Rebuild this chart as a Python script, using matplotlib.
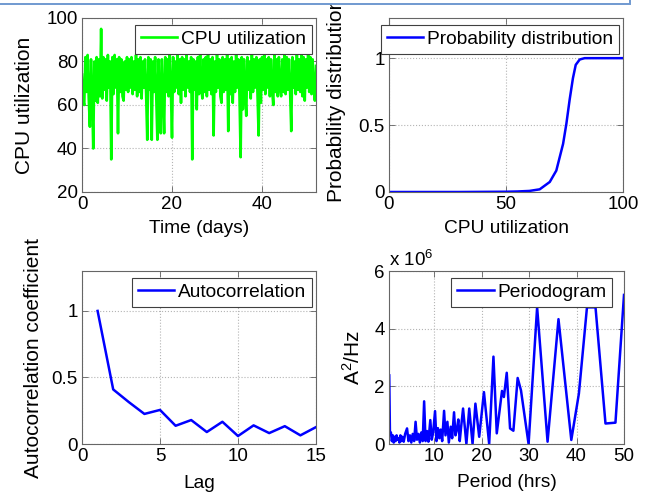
import numpy as np
import matplotlib
matplotlib.use('Agg')
import matplotlib.pyplot as plt
from matplotlib.patches import Rectangle
from matplotlib.ticker import FuncFormatter

plt.rcParams['font.family'] = ['Liberation Sans', 'DejaVu Sans']
plt.rcParams['mathtext.default'] = 'regular'
plt.rcParams['font.size'] = 13.8

# CPU utilization, one reading every 0.25 day
cpu_step = 0.25
cpu_util = [
    74, 62, 60, 82, 66, 83, 63, 50,
    81, 64, 40, 80, 62, 82, 61, 81,
    64, 95, 63, 82, 67, 81, 62, 83,
    68, 80, 35, 82, 65, 83, 68, 81,
    47, 82, 66, 81, 64, 62, 80, 67,
    82, 66, 81, 68, 82, 65, 80, 67,
    83, 64, 81, 66, 82, 63, 80, 68,
    81, 65, 44, 82, 67, 81, 44, 80,
    66, 82, 64, 44, 81, 67, 47, 81,
    65, 47, 82, 66, 81, 64, 83, 67,
    45, 82, 66, 80, 68, 83, 65, 81,
    61, 82, 67, 81, 64, 83, 68, 80,
    66, 82, 35, 81, 67, 80, 58, 82,
    65, 83, 68, 63, 81, 66, 82, 64,
    83, 67, 81, 65, 82, 46, 80, 66,
    83, 68, 81, 64, 61, 82, 66, 81,
    67, 83, 48, 81, 65, 82, 61, 80,
    66, 83, 68, 81, 64, 36, 82, 58,
    81, 66, 55, 82, 67, 80, 63, 83,
    66, 81, 68, 82, 65, 46, 81, 61,
    82, 67, 83, 65, 81, 68, 82, 64,
    81, 67, 60, 83, 66, 81, 64, 82,
    68, 64, 81, 66, 83, 65, 82, 67,
    81, 66, 48, 82, 68, 80, 65, 83,
    67, 81, 66, 83, 64, 82, 62, 81,
    68, 83, 66, 82, 65, 81, 67, 62,
    78,
]
days = np.arange(len(cpu_util)) * cpu_step

# empirical CDF of CPU utilization
cdf_x = [0, 30, 40, 50, 55, 60, 64.4, 68.7, 71.5, 74.4, 75.8, 77.2, 78.6, 79.8, 81.5, 83.6, 90, 100]
cdf_y = [0, 0, 0.001, 0.002, 0.004, 0.008, 0.02, 0.075, 0.16, 0.36, 0.51, 0.69, 0.85, 0.95, 0.99, 1.0, 1.0, 1.0]

# autocorrelation
lags = list(range(1, 16))
acf = [1.0, 0.41, 0.315, 0.226, 0.256, 0.137, 0.18, 0.09, 0.167, 0.06, 0.14, 0.082, 0.134, 0.065, 0.127]

# periodogram (power in units of 1e6 A^2/Hz)
period_hrs = [0.55, 0.7, 0.9, 1.1, 1.3, 1.5, 1.7, 1.9, 2.1, 2.3, 2.5, 2.7, 2.9, 3.1, 3.3, 3.6,
              3.9, 4.3, 4.6, 4.9, 5.2, 5.5, 5.8, 6.1, 6.4, 6.7, 7.0, 7.3, 7.6, 7.9, 8.2, 8.5,
              8.8, 9.2, 9.5, 9.8, 10.2, 10.5, 10.8, 11.1, 11.4, 11.7, 12.1, 12.4, 12.8, 13.1,
              13.5, 13.8, 14.2, 14.5, 14.8, 15.1, 15.4, 15.7, 16.1, 16.8, 17.4, 18.1, 18.7,
              19.5, 20.5, 21.6, 22.5, 23.2, 24.3, 24.7, 25.3, 26.0, 26.7, 27.6, 28.3, 29.9,
              31.7, 33.9, 36.2, 38.9, 40.5, 42.2, 44.0, 46.1, 48.2, 50.0]
power_m = [2.38, 0.35, 0.4, 0.1, 0.3, 0.05, 0.25, 0.1, 0.3, 0.15, 0.2, 0.05, 0.3, 0.1, 0.25, 0.08,
           0.35, 0.54, 0.1, 0.3, 0.05, 0.35, 0.1, 0.77, 0.15, 0.35, 0.05, 0.4, 0.1, 1.48, 0.1, 0.45,
           0.08, 0.83, 0.15, 0.4, 1.14, 0.1, 0.55, 0.2, 0.5, 0.1, 1.15, 0.3, 0.77, 0.05,
           0.6, 0.2, 1.1, 0.3, 0.5, 0.85, 0.1, 0.6, 1.23, 0.0, 1.23, 0.0, 1.4,
           0.25, 1.8, 0.0, 3.03, 0.37, 1.84, 1.63, 2.47, 0.54, 0.46, 2.29, 1.86, 0.0,
           4.74, 0.08, 4.33, 0.14, 1.75, 4.74, 4.74, 0.71, 0.74, 5.17]
power = [p * 1e6 for p in power_m]

LABEL_SIZE = 15


def style(ax):
    ax.grid(True, linestyle=':', color='#b4b4b4', linewidth=0.8)
    ax.tick_params(direction='in', length=4, width=0.6, top=True, right=True,
                   pad=3, labelsize=13.5, color='#606060')
    for s in ax.spines.values():
        s.set_color('#666666')
        s.set_linewidth(0.8)


def legend(ax, anchor):
    lg = ax.legend(loc='upper right', bbox_to_anchor=anchor, borderaxespad=0,
                   fancybox=False, framealpha=1, edgecolor='#404040',
                   borderpad=0.3, handlelength=1.9, handletextpad=0.2,
                   fontsize=13.8)
    lg.get_frame().set_linewidth(0.8)


fig = plt.figure(figsize=(6.56, 4.94), dpi=100)
W, H = 656, 494


def axes_px(left, top, right, bottom):
    return fig.add_axes([left / W, 1 - bottom / H, (right - left) / W, (bottom - top) / H])


# top left: time series
ax1 = axes_px(82, 18, 316, 192)
ax1.plot(days, cpu_util, color=(0, 1, 0), linewidth=1.9, label='CPU utilization')
ax1.set_xlim(0, 52)
ax1.set_ylim(20, 100)
ax1.set_xticks([0, 20, 40])
ax1.set_yticks([20, 40, 60, 80, 100])
ax1.set_xlabel('Time (days)', labelpad=5)
ax1.set_ylabel('CPU utilization', fontsize=LABEL_SIZE)
ax1.yaxis.set_label_coords(-0.205, 0.5)
style(ax1)
legend(ax1, (0.983, 0.96))

# top right: distribution
ax2 = axes_px(389, 18, 623, 192)
ax2.plot(cdf_x, cdf_y, color=(0, 0, 1), linewidth=1.8, label='Probability distribution')
ax2.set_xlim(0, 100)
ax2.set_ylim(0, 1.3)
ax2.set_xticks([0, 50, 100])
ax2.set_yticks([0, 0.5, 1])
ax2.set_yticklabels(['0', '0.5', '1'])
ax2.set_xlabel('CPU utilization', labelpad=5)
ax2.set_ylabel('Probability distribution', fontsize=LABEL_SIZE)
ax2.yaxis.set_label_coords(-0.184, 0.53)
style(ax2)
legend(ax2, (0.983, 0.96))

# bottom left: autocorrelation
ax3 = axes_px(82, 271, 316, 444)
ax3.plot(lags, acf, color=(0, 0, 1), linewidth=1.8, label='Autocorrelation')
ax3.set_xlim(0, 15)
ax3.set_ylim(0, 1.3)
ax3.set_xticks([0, 5, 10, 15])
ax3.set_yticks([0, 0.5, 1])
ax3.set_yticklabels(['0', '0.5', '1'])
ax3.set_xlabel('Lag', labelpad=7)
ax3.set_ylabel('Autocorrelation coefficient', fontsize=LABEL_SIZE)
ax3.yaxis.set_label_coords(-0.167, 0.5)
style(ax3)
legend(ax3, (0.983, 0.96))

# bottom right: periodogram
ax4 = axes_px(389, 271, 624, 444)
ax4.plot(period_hrs, power, color=(0, 0, 1), linewidth=1.8, label='Periodogram')
ax4.set_xlim(0.5, 50)
ax4.set_ylim(0, 6e6)
ax4.set_xticks([10, 20, 30, 40, 50])
ax4.set_yticks([0, 2e6, 4e6, 6e6])
ax4.yaxis.set_major_formatter(FuncFormatter(lambda v, _: '%g' % (v / 1e6)))
ax4.text(0.0, 1.005, r'x 10$^6$', transform=ax4.transAxes, ha='left', va='bottom', fontsize=13.5)
ax4.set_xlabel('Period (hrs)', labelpad=6)
ax4.set_ylabel(r'A$^2$/Hz', fontsize=LABEL_SIZE)
ax4.yaxis.set_label_coords(-0.106, 0.5)
style(ax4)
legend(ax4, (0.95, 0.96))

# slide text-box border peeking in at the top
box = Rectangle((-0.01, 1 - 4.5 / H), 630 / W + 0.01, 0.05, transform=fig.transFigure,
                facecolor='white', edgecolor='#7099d0', linewidth=1.4, zorder=10)
fig.add_artist(box)

fig.savefig('out.png', dpi=100)
